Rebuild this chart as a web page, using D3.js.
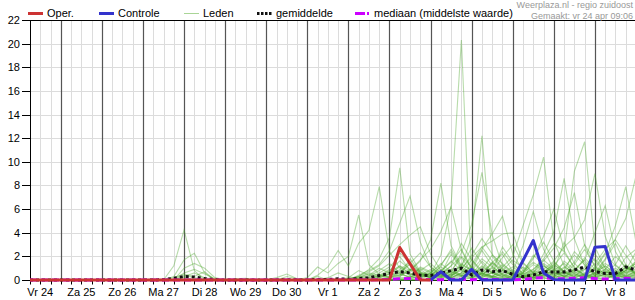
<!DOCTYPE html>
<html>
<head>
<meta charset="utf-8">
<script src="https://cdn.jsdelivr.net/npm/d3@7"></script>
<style>
    body { margin: 0; background: #fff; }
    svg { display: block; font-family: "Liberation Sans", Arial, sans-serif; }
</style>
</head>
<body>
<div id="chart"></div>
<script>
// Neerslag-pluim (mm per 6 uur), run vr 24 apr, regio zuidoost

// tijdas: 6-uurlijkse stappen vanaf vr 24 apr 06:00
const startTijd = new Date(2020, 3, 24, 6);
const eindTijd = new Date(2020, 4, 9, 0);
const stapUren = 6;

const dagLabels = ['Vr 24', 'Za 25', 'Zo 26', 'Ma 27', 'Di 28', 'Wo 29', 'Do 30', 'Vr 1',
    'Za 2', 'Zo 3', 'Ma 4', 'Di 5', 'Wo 6', 'Do 7', 'Vr 8'];
const yTicks = [0, 2, 4, 6, 8, 10, 12, 14, 16, 18, 20, 22];

// operationele run (loopt tot ma 4 00:00)
const oper = [0,0,0,0,0,0,0,0,0,0, 0,0,0,0,0,0,0,0,0,0, 0,0,0,0,0,0,0,0,0,0,
    0,0,0,0,0,0,2.75,1.37,0,0];

// controle run (zichtbaar vanaf ma 4 00:00)
const controle = [null,null,null,null,null,null,null,null,null,null,
    null,null,null,null,null,null,null,null,null,null,
    null,null,null,null,null,null,null,null,null,null,
    null,null,null,null,null,null,null,null,null,
    0,0.7,0,0,0.9,0,0,0,0,1.65,3.34,0.6,0.05,0,0,0,2.78,2.83,0,0,0];

const gemiddelde = [0,0,0,0,0,0,0,0,0,0, 0,0,0,0.02,0.15,0.3,0.25,0.12,0.03,0,
    0,0.01,0,0,0.01,0.03,0.01,0,0.05,0.05, 0.1,0.06,0.12,0.18,0.38,0.55,0.7,0.6,0.4,0.38,
    0.57,0.8,1.0,0.42,0.85,0.7,0.8,0.48,0.28,0.42, 0.7,0.68,0.68,0.85,1.1,0.7,0.55,0.55,1.1,0.85];

const mediaan = [0,0,0,0,0,0,0,0,0,0, 0,0,0,0,0,0,0,0,0,0, 0,0,0,0,0,0,0,0,0,0,
    0,0,0,0,0.02,0.05,0.1,0.12,0.08,0.02, 0.03,0.05,0.06,0.02,0.05,0.04,0.03,0.02,0.05,0.15,
    0.2,0.12,0.1,0.15,0.2,0.12,0.08,0.1,0.15,0.12];

// ensembleleden, deel 1: vr 24 06:00 t/m do 30 18:00
const ledenDeel1 = [
    [0,0,0,0,0,0,0,0,0,0, 0,0,0,0,1.2,4.25,0.8,0,0,0, 0,0,0,0,0,0,0],
    [0,0,0,0,0,0,0,0,0,0, 0,0,0,0,0.3,1.7,2.27,0.6,0,0, 0,0,0,0,0,0,0],
    [0,0,0,0,0,0,0,0,0,0, 0,0,0,0,0,1,1.4,1,0.2,0, 0,0,0,0,0,0,0],
    [0,0,0,0,0,0,0,0,0,0, 0,0,0,0,0,0.6,0.9,0.5,0.1,0, 0,0,0,0,0,0,0],
    [0,0,0,0,0,0,0,0,0,0, 0,0,0,0,0.2,0.5,0.3,0.7,0,0, 0,0,0,0,0,0,0],
    [0,0,0,0,0,0,0,0,0,0, 0,0,0,0,0,0.3,0.6,0.2,0,0, 0,0,0,0,0,0,0],
    [0,0,0,0,0,0,0,0,0,0, 0,0,0,0.1,0,0.4,0.2,0,0,0, 0,0,0,0,0,0,0],
    [0,0,0,0,0,0,0,0,0,0, 0,0,0,0,0,0,0,0,0,0, 0.1,0.15,0,0,0,0,0],
    [0,0,0,0,0,0,0,0,0,0, 0,0,0,0,0,0,0,0,0,0, 0,0,0,0,0.2,0.5,0.1],
    [0,0,0,0,0,0,0,0,0,0, 0,0,0,0,0,0,0,0,0,0, 0,0,0,0,0,0.3,0.1],
    [0,0,0,0,0,0,0,0,0,0, 0,0,0.1,0,0,0.2,0,0,0,0, 0,0,0,0,0,0,0],
    [0,0,0,0,0,0,0,0,0,0, 0,0,0,0,0,0,0,0,0,0, 0,0,0,0,0,0,0],
    [0,0,0,0,0,0,0,0,0,0, 0,0,0,0,0,0,0,0,0,0, 0,0,0,0,0,0,0],
    [0,0,0,0,0,0,0,0,0,0, 0,0,0,0,0,0,0,0,0,0, 0,0,0,0,0,0,0],
    [0,0,0,0,0,0,0,0,0,0, 0,0,0,0,0,0,0,0,0,0, 0,0,0,0,0,0,0],
    [0,0,0,0,0,0,0,0,0,0, 0,0,0,0,0,0,0,0,0,0, 0,0,0,0,0,0,0],
    [0,0,0,0,0,0,0,0,0,0, 0,0,0,0,0,0,0,0,0,0, 0,0,0,0,0,0,0],
    [0,0,0,0,0,0,0,0,0,0, 0,0,0,0,0,0,0,0,0,0, 0,0,0,0,0,0,0],
    [0,0,0,0,0,0,0,0,0,0, 0,0,0,0,0,0,0,0,0,0, 0,0,0,0,0,0,0],
    [0,0,0,0,0,0,0,0,0,0, 0,0,0,0,0,0,0,0,0,0, 0,0,0,0,0,0,0],
    [0,0,0,0,0,0,0,0,0,0, 0,0,0,0,0,0,0,0,0,0, 0,0,0,0,0,0,0],
    [0,0,0,0,0,0,0,0,0,0, 0,0,0,0,0,0,0,0,0,0, 0,0,0,0,0,0,0],
    [0,0,0,0,0,0,0,0,0,0, 0,0,0,0,0,0,0,0,0,0, 0,0,0,0,0,0,0],
    [0,0,0,0,0,0,0,0,0,0, 0,0,0,0,0,0,0,0,0,0, 0,0,0,0,0,0,0],
    [0,0,0,0,0,0,0,0,0,0, 0,0,0,0,0,0,0,0,0,0, 0,0,0,0,0,0,0],
    [0,0,0,0,0,0,0,0,0,0, 0,0,0,0,0,0,0,0,0,0, 0,0,0,0,0,0,0],
    [0,0,0,0,0,0,0,0,0,0, 0,0,0,0,0,0,0,0,0,0, 0,0,0,0,0,0,0],
    [0,0,0,0,0,0,0,0,0,0, 0,0,0,0,0,0,0,0,0,0, 0,0,0,0,0,0,0],
    [0,0,0,0,0,0,0,0,0,0, 0,0,0,0,0,0,0,0,0,0, 0,0,0,0,0,0,0],
    [0,0,0,0,0,0,0,0,0,0, 0,0,0,0,0,0,0,0,0,0, 0,0,0,0,0,0,0]
];

// ensembleleden, deel 2: vr 1 00:00 t/m za 9 00:00
const ledenDeel2 = [
    [0,0,0,0,0,0,0,0.2,0.5,1.2,0.8,0.3,0.5,2.1,6.3,20.3,0.2,0.6,0.2,0,0.4,1.1,0.6,0.2,0,0.8,2.4,1.5,0.3,0,0.6,1.9,2.6],
    [0,0.3,0,0,0.2,0.8,0.4,0.2,0.6,2.3,1.4,0.5,0.3,1.2,2.6,1.1,3.7,12.2,2.0,0.9,0.3,0.2,0,0.5,1.3,0.7,0.2,0,0.4,0.9,0.3,1.1,0.6],
    [0,0,0,0,0.1,0.3,0.9,1.8,3.6,9.5,2.2,0.7,0.2,0.6,0.3,1.4,0.8,2.5,1.2,0.4,0.1,0,0.6,1.7,0.9,0.3,0,0.2,1.1,0.5,0.2,0.8,1.4],
    [0,0.4,1.1,2.5,1.2,3.1,4.2,7.9,2.4,1.0,0.4,0.9,0.3,0.2,0.8,1.9,0.6,0.3,1.5,2.2,0.7,0.1,0,0.4,0.2,1.6,0.9,0.3,0.1,0,0.5,1.3,0.4],
    [0.2,1.1,0.6,1.4,2.0,5.5,1.3,0.5,0.2,0.4,1.8,0.6,0.1,0.5,2.2,0.9,0.4,1.6,0.7,0.3,0.1,0.6,2.1,1.3,0.4,0.2,0.9,1.7,0.5,0.3,0.2,0.6,0.9],
    [0,0,0,0,0,0.2,0.5,0.3,0.8,1.6,0.9,0.4,0.2,0.8,1.5,2.6,1.0,0.5,0.3,1.1,2.0,4.6,7.2,10.4,3.3,1.2,0.5,0.2,0.6,1.4,0.8,0.3,0.2],
    [0,0,0,0.1,0,0,0.3,0.8,1.4,0.6,0.2,1.1,0.7,0.3,0.9,0.4,1.3,2.8,1.6,0.5,0.2,0.4,0.9,1.8,3.1,2.4,9.2,11.7,2.8,1.0,0.4,0.8,1.6],
    [0,0,0,0,0,0.4,0.8,1.3,2.5,4.8,7.1,3.2,1.1,0.4,0.2,0.6,1.7,0.8,0.3,0.1,0,0.3,0.8,0.5,1.2,2.3,1.1,0.4,0.2,0.5,1.0,0.4,0.3],
    [0,0,0,0,0.1,0.3,0.2,0.6,1.1,2.0,0.8,1.6,3.4,8.2,2.9,1.2,0.5,0.9,2.1,1.4,0.6,0.2,0.1,0.7,1.3,0.6,0.3,1.1,2.2,1.0,0.4,0.2,0.5],
    [0,0,0,0,0,0,0.2,0.4,0.3,0.9,1.5,0.7,0.4,1.1,0.6,2.3,4.7,9.1,3.8,1.2,0.5,0.2,0.6,1.4,0.8,0.3,0.7,1.9,0.9,0.4,0.1,0.3,0.8],
    [0,0,0.2,0.6,0.3,0.1,0,0.4,0.9,0.5,0.2,0.8,1.4,0.6,0.3,1.0,0.5,0.2,0.7,1.9,3.0,1.4,0.6,2.2,4.1,8.6,3.5,1.2,0.4,0.9,2.0,1.1,0.5],
    [0,0,0,0,0,0,0.1,0.3,0.7,1.2,0.5,0.2,0.6,1.3,2.4,1.0,0.4,1.2,0.6,2.8,1.5,0.5,0.9,1.6,2.7,4.4,7.4,2.9,1.1,2.3,4.6,7.9,3.2],
    [0,0,0,0,0,0.2,0.6,0.4,0.2,0.7,1.3,0.6,0.2,0.5,1.2,3.1,1.7,0.6,1.4,0.8,0.3,0.7,1.5,0.9,0.4,1.0,2.1,1.3,0.6,1.8,3.5,5.2,8.8],
    [0,0,0,0,0,0.1,0.4,1.0,0.6,0.3,0.8,1.7,2.6,4.1,6.2,2.5,0.9,0.4,0.2,0.6,1.1,0.5,0.2,0.4,0.9,0.5,1.3,2.6,1.2,0.5,0.3,0.7,1.2],
    [0,0,0,0,0,0,0,0.2,0.5,1.1,0.6,0.3,0.8,0.4,1.2,2.0,1.1,2.6,3.9,5.4,2.2,0.8,0.3,0.6,1.5,0.7,0.3,0.9,1.8,0.8,0.4,1.1,0.6],
    [0,0,0,0,0,0,0,0,0.1,0.4,0.9,0.5,0.2,0.3,0.7,0.4,1.0,0.6,0.3,0.8,1.7,1.0,0.4,0.9,1.6,2.8,3.6,5.1,9.0,3.7,1.3,0.6,0.9],
    [0,0,0,0,0,0.3,0.7,1.2,2.1,3.0,3.8,4.5,2.2,0.8,0.4,1.0,1.9,2.8,3.3,3.9,4.0,1.5,0.6,0.3,0.8,1.4,0.7,0.3,0.6,1.2,0.5,0.2,0.4],
    [0,0,0,0,0,0,0,0,0.2,0.6,1.4,2.3,1.1,0.5,0.3,0.9,2.1,3.5,2.2,1.0,0.4,0.8,1.9,3.2,1.6,0.7,0.3,0.5,1.4,2.6,3.4,2.1,0.9],
    [0,0,0,0,0,0,0,0.1,0.3,0.8,0.4,1.0,0.6,0.2,0.5,1.3,0.8,0.4,1.1,2.4,1.3,0.6,1.8,3.7,6.0,2.5,1.0,0.4,0.9,2.2,1.2,0.6,0.3],
    [0,0,0,0,0,0,0,0,0,0.3,0.9,0.5,0.2,0.7,1.6,0.8,0.3,0.6,1.5,0.9,0.4,0.2,0.5,1.2,0.6,0.3,0.8,1.7,4.0,6.3,2.4,0.9,1.4],
    [0,0,0,0,0,0,0,0,0,0.1,0.3,0.2,0.6,1.4,0.7,0.3,0.8,1.8,1.1,0.5,0.2,0.6,1.3,0.8,0.3,0.7,1.5,3.0,1.6,0.7,0.3,0.8,2.4],
    [0,0,0,0,0,0,0,0,0.2,0.5,0.3,0.1,0.4,0.9,0.5,1.2,2.7,1.4,0.6,0.3,0.7,0.4,0.2,0.6,1.1,0.5,0.9,0.4,0.2,0.6,1.3,2.9,1.5],
    [0,0,0,0,0,0,0,0,0,0,0.2,0.6,0.3,0.1,0.4,0.8,0.4,0.2,0.6,1.3,0.7,2.9,5.8,2.6,0.9,0.4,0.2,0.5,1.0,0.5,0.2,0.4,0.7],
    [0,0,0,0,0,0,0,0,0,0.2,0.1,0.4,0.9,0.5,0.2,0.6,0.3,1.1,0.6,0.2,0.5,0.3,0.1,0.4,0.8,3.2,1.4,0.6,0.3,0.7,0.4,1.0,0.5],
    [0,0,0,0,0,0,0,0,0,0,0,0.2,0.5,0.3,0.8,0.4,0.2,0.5,1.0,0.4,0.2,0.6,0.3,1.2,0.7,0.3,0.6,0.9,0.4,1.7,3.1,1.3,0.5],
    [0,0,0,0,0,0,0,0,0,0,0,0,0.1,0.4,0.2,0.6,1.1,0.5,0.3,0.8,0.4,0.2,0.7,0.3,0.5,1.1,0.6,0.2,0.5,0.3,0.8,0.4,1.6],
    [0,0,0,0,0,0,0,0,0,0,0.1,0.3,0.6,0.3,0.1,0.3,0.7,0.4,0.2,0.5,0.9,0.4,0.2,0.6,0.3,0.8,0.4,0.2,0.6,1.2,0.6,0.3,0.2],
    [0,0,0,0,0,0,0,0,0,0,0,0,0,0.2,0.5,0.3,0.1,0.3,0.6,0.3,0.8,0.4,0.2,0.5,0.2,0.4,0.9,0.5,0.2,0.4,0.7,0.3,0.6],
    [0,0,0,0,0,0,0,0,0,0,0,0,0,0,0.2,0.4,0.2,0.6,0.3,0.1,0.3,0.2,0.5,0.2,0.6,0.3,0.2,0.4,0.3,0.7,0.4,0.8,0.4],
    [0,0,0,0,0,0,0,0,0,0,0,0,0,0,0,0,0.2,0.1,0.3,0.2,0.1,0.4,0.2,0.1,0.3,0.2,0.5,0.3,0.1,0.2,0.4,0.2,0.1]
];

const leden = ledenDeel1.map((deel, i) => deel.concat(ledenDeel2[i]));
leden.forEach((lid, i) => {
    if (lid.length !== 60) console.warn(`lid ${i} heeft ${lid.length} waarden`);
});

// Kleuren
const kleurOper = '#cc3333';
const kleurControle = '#3333cc';
const kleurLeden = '#4ea82e';
const kleurMediaan = '#cc00ff';

const width = 635;
const height = 300;

const svg = d3.select('#chart')
    .append('svg')
    .attr('width', width)
    .attr('height', height);

const xScale = d3.scaleTime()
    .domain([startTijd, eindTijd])
    .range([30, 636]);

const yScale = d3.scaleLinear()
    .domain([0, 22])
    .range([280, 20]);

const px = v => Math.round(v) + 0.5;
const tijdVan = i => d3.timeHour.offset(startTijd, i * stapUren);

// Rasterlijnen
const zesUur = d3.timeHour.every(stapUren).range(startTijd, d3.timeHour.offset(eindTijd, 1));
const grid = svg.append('g');

grid.selectAll('.h-grid')
    .data(yTicks.filter(d => d > 0 && d < 22))
    .enter()
    .append('line')
    .attr('x1', 30)
    .attr('x2', width)
    .attr('y1', d => px(yScale(d)))
    .attr('y2', d => px(yScale(d)))
    .attr('stroke', '#dcdcdc')
    .attr('stroke-width', 1);

grid.selectAll('.v-grid')
    .data(zesUur.filter(d => d.getHours() !== 0))
    .enter()
    .append('line')
    .attr('x1', d => px(xScale(d)))
    .attr('x2', d => px(xScale(d)))
    .attr('y1', yScale(22))
    .attr('y2', yScale(0))
    .attr('stroke', '#dcdcdc')
    .attr('stroke-width', 1);

// Daglijnen (middernacht)
grid.selectAll('.dag-lijn')
    .data(zesUur.filter(d => d.getHours() === 0))
    .enter()
    .append('line')
    .attr('x1', d => px(xScale(d)))
    .attr('x2', d => px(xScale(d)))
    .attr('y1', yScale(22))
    .attr('y2', yScale(0))
    .attr('stroke', '#555')
    .attr('stroke-width', 1.2);

// Assen
const assen = svg.append('g').attr('stroke', '#000').attr('stroke-width', 1);
assen.append('line')
    .attr('x1', 30).attr('x2', width)
    .attr('y1', px(yScale(22))).attr('y2', px(yScale(22)));
assen.append('line')
    .attr('x1', 30).attr('x2', width)
    .attr('y1', px(yScale(0))).attr('y2', px(yScale(0)));
assen.append('line')
    .attr('x1', px(30)).attr('x2', px(30))
    .attr('y1', px(yScale(22))).attr('y2', px(yScale(0)));

assen.selectAll('.x-tick')
    .data(zesUur)
    .enter()
    .append('line')
    .attr('x1', d => px(xScale(d)))
    .attr('x2', d => px(xScale(d)))
    .attr('y1', px(yScale(0)))
    .attr('y2', px(yScale(0)) + 4);

assen.selectAll('.y-tick')
    .data(yTicks)
    .enter()
    .append('line')
    .attr('x1', 22)
    .attr('x2', 30)
    .attr('y1', d => px(yScale(d)))
    .attr('y2', d => px(yScale(d)));

svg.selectAll('.y-label')
    .data(yTicks)
    .enter()
    .append('text')
    .attr('x', 20)
    .attr('y', d => yScale(d) + 4)
    .attr('text-anchor', 'end')
    .attr('font-size', '11px')
    .attr('fill', '#000')
    .text(d => d);

// Daglabels op 12:00
const dagen = d3.timeDay.range(d3.timeDay.floor(startTijd), eindTijd);
svg.selectAll('.x-label')
    .data(dagen)
    .enter()
    .append('text')
    .attr('x', d => xScale(d3.timeHour.offset(d, 12)))
    .attr('y', 296)
    .attr('text-anchor', 'middle')
    .attr('font-size', '11px')
    .attr('fill', '#000')
    .text((d, i) => dagLabels[i]);

// Lijnen
const lijn = d3.line()
    .defined(d => d !== null)
    .x((d, i) => xScale(tijdVan(i)))
    .y(d => yScale(d));

svg.append('g')
    .selectAll('path')
    .data(leden)
    .enter()
    .append('path')
    .attr('d', lijn)
    .attr('fill', 'none')
    .attr('stroke', kleurLeden)
    .attr('stroke-opacity', 0.4)
    .attr('stroke-width', 1.1);

svg.append('path')
    .attr('d', lijn(gemiddelde))
    .attr('fill', 'none')
    .attr('stroke', '#111')
    .attr('stroke-width', 3)
    .attr('stroke-dasharray', '3,3');

svg.append('path')
    .attr('d', lijn(mediaan))
    .attr('fill', 'none')
    .attr('stroke', kleurMediaan)
    .attr('stroke-width', 3)
    .attr('stroke-dasharray', '7,4');

svg.append('path')
    .attr('d', lijn(controle))
    .attr('fill', 'none')
    .attr('stroke', kleurControle)
    .attr('stroke-width', 3)
    .attr('stroke-linejoin', 'round');

svg.append('path')
    .attr('d', lijn(oper))
    .attr('fill', 'none')
    .attr('stroke', kleurOper)
    .attr('stroke-width', 3)
    .attr('stroke-linejoin', 'round');

// Legenda
const legenda = svg.append('g').attr('font-size', '11px').attr('fill', '#000');
const legItems = [
    { naam: 'Oper.', x: 28, kleur: kleurOper, breedte: 3, dash: null },
    { naam: 'Controle', x: 99, kleur: kleurControle, breedte: 3, dash: null },
    { naam: 'Leden', x: 184, kleur: '#a9d596', breedte: 1, dash: null },
    { naam: 'gemiddelde', x: 257, kleur: '#111', breedte: 3, dash: '2.5,1.5' },
    { naam: 'mediaan (middelste waarde)', x: 355, kleur: kleurMediaan, breedte: 3, dash: '10,2,2,20' }
];
legItems.forEach(item => {
    legenda.append('line')
        .attr('x1', item.x)
        .attr('x2', item.x + 15)
        .attr('y1', 13.5)
        .attr('y2', 13.5)
        .attr('stroke', item.kleur)
        .attr('stroke-width', item.breedte)
        .attr('stroke-dasharray', item.dash);
    legenda.append('text')
        .attr('x', item.x + 19)
        .attr('y', 17)
        .text(item.naam);
});

// Bron en tijdstip
svg.append('text')
    .attr('x', 633)
    .attr('y', 8)
    .attr('text-anchor', 'end')
    .attr('font-size', '9px')
    .attr('fill', '#999')
    .text('Weerplaza.nl - regio zuidoost');
svg.append('text')
    .attr('x', 633)
    .attr('y', 19)
    .attr('text-anchor', 'end')
    .attr('font-size', '9px')
    .attr('fill', '#999')
    .text('Gemaakt: vr 24 apr 09:06');
</script>
</body>
</html>
